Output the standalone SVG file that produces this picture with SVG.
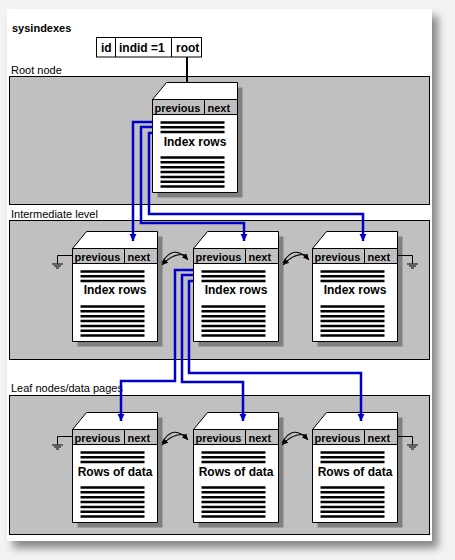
<svg xmlns="http://www.w3.org/2000/svg" width="455" height="560" viewBox="0 0 455 560">
<style>
text{font-family:"Liberation Sans",Arial,sans-serif;fill:#000}
.lbl{font-size:11px}
.b{font-weight:bold;font-size:12px}
.hdr{font-weight:bold;font-size:11px}
.panel{fill:#c0c0c0;stroke:#000;stroke-width:1}
.rule{fill:none;stroke:#000;stroke-width:2.5}
.blue{fill:none;stroke:#0000c8;stroke-width:2.5}
.thin{fill:none;stroke:#000;stroke-width:1}
.swap{fill:none;stroke:#000;stroke-width:1.1}
</style>
<defs>
<filter id="cardShadow" x="-5%" y="-5%" width="115%" height="115%">
<feDropShadow dx="6" dy="7" stdDeviation="4" flood-color="#000" flood-opacity="0.45"/>
</filter>
<marker id="ba" markerUnits="userSpaceOnUse" markerWidth="8" markerHeight="8" refX="7" refY="4" orient="auto">
<path d="M0,0.5L7,4L0,7.5Z" fill="#0000c8"/>
</marker>
<marker id="sa" markerUnits="userSpaceOnUse" markerWidth="7" markerHeight="7" refX="6" refY="3.5" orient="auto">
<path d="M0,0.5L6,3.5L0,6.5Z" fill="#000"/>
</marker>
<g id="page">
<path d="M19 5H90V115H5V22Z" fill="#808080"/>
<path d="M14 0H85V110H0V17Z" fill="#fff" stroke="#000"/>
<rect x="0" y="17" width="85" height="15" fill="#c0c0c0" stroke="#000"/>
<line x1="52" y1="17" x2="52" y2="32" stroke="#000"/>
<text x="2" y="29" class="hdr">previous</text>
<text x="55" y="29" class="hdr">next</text>
<path class="rule" d="M8 40H72M8 44.7H72M8 49.4H72M8 75H72M8 79.85H72M8 84.7H72M8 89.55H72M8 94.4H72M8 99.25H72M8 104.1H72"/>
</g>
<g id="swapSym">
<path class="swap" d="M-13,6Q-2,-14 13,3" marker-end="url(#sa)"/>
<path class="swap" d="M11,-2Q-1,-5 -13,8" marker-end="url(#sa)"/>
</g>
<g id="gndL">
<path class="thin" d="M0 0H-15V8M-20.5 8.5H-9.5M-18.5 10.5H-11.5M-16.5 12.5H-13.5"/>
</g>
<g id="gndR">
<path class="thin" d="M0 0H15V8M9.5 8.5H20.5M11.5 10.5H18.5M13.5 12.5H16.5"/>
</g>
</defs>

<rect x="0" y="0" width="455" height="560" fill="#f3f3f3"/>
<rect x="7" y="9" width="425" height="532" fill="#fff" filter="url(#cardShadow)"/>

<g id="header">
<text x="12" y="32" class="b" style="font-size:11px">sysindexes</text>
<rect x="96.5" y="37.5" width="105" height="19.5" fill="#fff" stroke="#000"/>
<line x1="115.5" y1="37.5" x2="115.5" y2="57" stroke="#000"/>
<line x1="171.5" y1="37.5" x2="171.5" y2="57" stroke="#000"/>
<text x="101" y="51.5" class="b">id</text>
<text x="119" y="51.5" class="b">indid =1</text>
<text x="176" y="51.5" class="b">root</text>
</g>

<g id="panels">
<text x="11" y="74" class="lbl">Root node</text>
<rect class="panel" x="9.5" y="76.5" width="420" height="128"/>
<text x="11" y="218" class="lbl">Intermediate level</text>
<rect class="panel" x="9.5" y="220.5" width="420" height="139"/>
<text x="11" y="392" class="lbl">Leaf nodes/data pages</text>
<rect class="panel" x="9.5" y="395.5" width="420" height="139"/>
</g>

<g id="root-page" transform="translate(152.5,82.5)">
<use href="#page"/>
<text x="42.5" y="63" class="b" text-anchor="middle">Index rows</text>
</g>

<g id="int-1" transform="translate(72.5,231.5)">
<use href="#page"/>
<text x="42.5" y="62" class="b" text-anchor="middle">Index rows</text>
</g>
<g id="int-2" transform="translate(193.5,231.5)">
<use href="#page"/>
<text x="42.5" y="62" class="b" text-anchor="middle">Index rows</text>
</g>
<g id="int-3" transform="translate(312.5,231.5)">
<use href="#page"/>
<text x="42.5" y="62" class="b" text-anchor="middle">Index rows</text>
</g>

<g id="leaf-1" transform="translate(72.5,412.5)">
<use href="#page"/>
<text x="42.5" y="63" class="b" text-anchor="middle">Rows of data</text>
</g>
<g id="leaf-2" transform="translate(193.5,412.5)">
<use href="#page"/>
<text x="42.5" y="63" class="b" text-anchor="middle">Rows of data</text>
</g>
<g id="leaf-3" transform="translate(312.5,412.5)">
<use href="#page"/>
<text x="42.5" y="63" class="b" text-anchor="middle">Rows of data</text>
</g>

<g id="connectors">
<line x1="187" y1="57" x2="187" y2="82.5" stroke="#000" stroke-width="2"/>
<path class="blue" d="M152.5 122H133V241" marker-end="url(#ba)"/>
<path class="blue" d="M152.5 127H141V223H244V241" marker-end="url(#ba)"/>
<path class="blue" d="M152.5 133H149V214H363V241" marker-end="url(#ba)"/>
<path class="blue" d="M193.5 270H175V381H121V421" marker-end="url(#ba)"/>
<path class="blue" d="M193.5 275H182V382H243V421" marker-end="url(#ba)"/>
<path class="blue" d="M193.5 281H189V373H361V421" marker-end="url(#ba)"/>
<use href="#swapSym" x="175" y="257"/>
<use href="#swapSym" x="296" y="257"/>
<use href="#swapSym" x="175" y="437"/>
<use href="#swapSym" x="295" y="437"/>
<use href="#gndL" x="72.5" y="255.5"/>
<use href="#gndR" x="397.5" y="255.5"/>
<use href="#gndL" x="72.5" y="436.5"/>
<use href="#gndR" x="397.5" y="436.5"/>
</g>
</svg>
